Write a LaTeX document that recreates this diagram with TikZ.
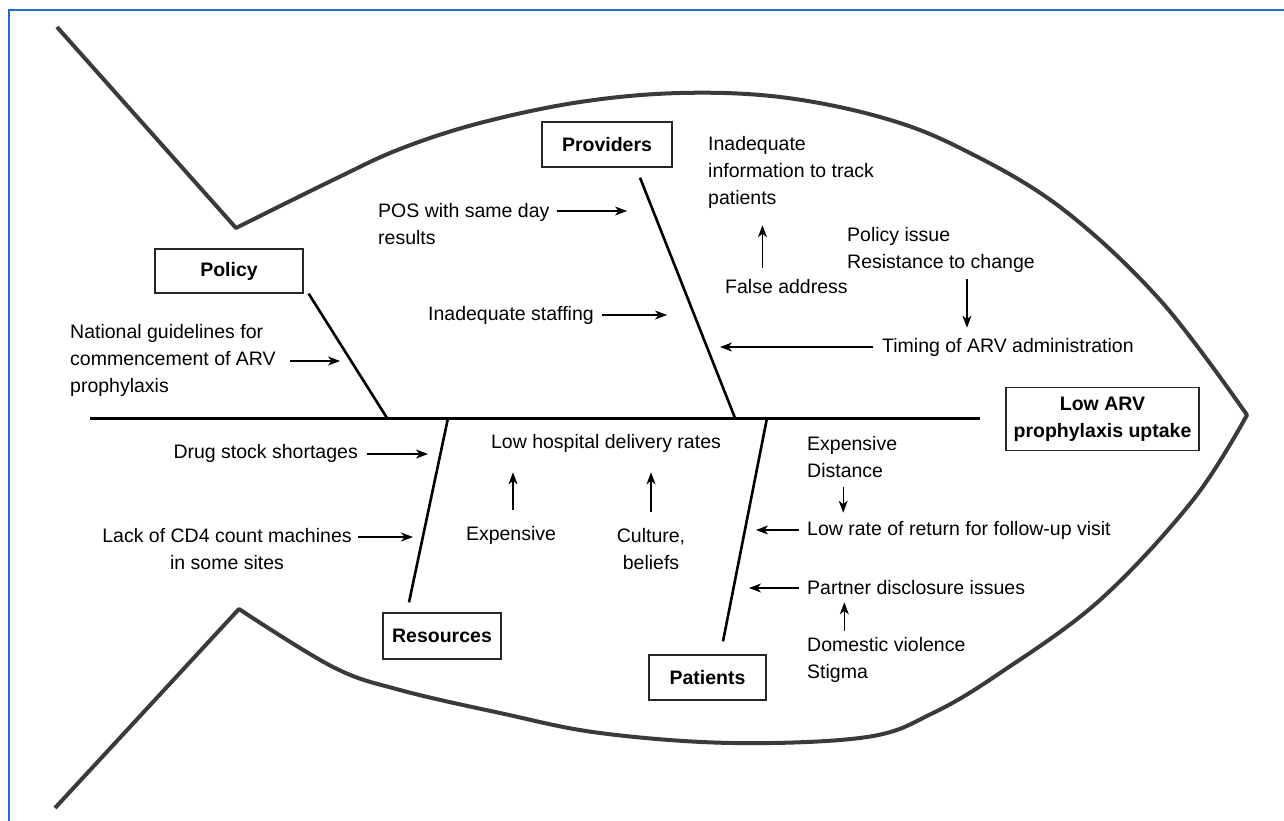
\documentclass[tikz,border=0pt]{standalone}
\usepackage{fontspec}
\setmainfont{Liberation Sans}
\usetikzlibrary{arrows.meta}
\definecolor{frameblue}{RGB}{30,110,200}
\definecolor{fishgray}{RGB}{58,58,58}
\newcommand\fishfont{\fontsize{19.5pt}{27pt}\selectfont}
\tikzset{
  causebox/.style={draw=black!85, line width=1.3pt, font=\fishfont\bfseries, inner sep=0pt, align=center},
  cause/.style={inner sep=0pt},
  bone/.style={line width=2.6pt},
  arr/.style={-{Stealth[length=12pt,width=9pt,inset=3.5pt]}, line width=1.2pt},
}
\begin{document}
\begin{tikzpicture}[x=1pt,y=-1pt,font=\fishfont]
  \useasboundingbox (0,0) rectangle (1284,821);
  \draw[frameblue, line width=2pt] (1284,10) -- (9,10) -- (9,821);
  \draw[fishgray, line width=4pt, line join=round]
    (57,27) -- plot[smooth, tension=0.6] coordinates {
      (236,228) (333,180) (400,149) (480,123) (580,102) (680,93)
      (780,97) (880,117) (960,148) (1060,207) (1160,300) (1247,415)}
    -- plot[smooth, tension=0.6] coordinates {
      (1247,415) (1193,500) (1100,600) (1000,673) (933,713) (867,737)
      (733,743) (600,733) (500,713) (400,690) (333,667) (239,609)}
    -- (55,808);

  \node[causebox, minimum width=148, minimum height=44] (policy) at (229,271) {Policy};
  \node[causebox, minimum width=130, minimum height=45] (providers) at (607,144.5) {Providers};
  \node[causebox, minimum width=118, minimum height=46] (resources) at (442,636) {Resources};
  \node[causebox, minimum width=117, minimum height=45] (patients) at (707.5,677.5) {Patients};
  \node[causebox, minimum width=193, minimum height=63] (uptake) at (1102.5,419) {Low ARV\\prophylaxis uptake};

  \coordinate (spineL) at (90,418);
  \coordinate (spineR) at (980,418);
  \coordinate (polfoot) at (387,418);
  \coordinate (profoot) at (735,418);
  \coordinate (resfoot) at (448,418);
  \coordinate (patfoot) at (767,418);
  \draw[bone, line width=3pt] (spineL) -- (spineR);
  \draw[bone] ([xshift=5pt]policy.south east) -- (polfoot);
  \draw[bone] ([shift={(33,10)}]providers.south) -- (profoot);
  \draw[bone] ([shift={(-33,-10)}]resources.north) -- (resfoot);
  \draw[bone] ([shift={(15.5,-13)}]patients.north) -- (patfoot);

  \node[cause, anchor=west, align=left] (guide) at (70,360) {National guidelines for\\commencement of ARV\\prophylaxis};
  \node[cause, anchor=west, align=left] (pos) at (378,224.5) {POS with same day\\results};
  \node[cause, anchor=west] (staff) at (428,315) {Inadequate staffing};
  \node[cause, anchor=west, align=left] (track) at (708,172) {Inadequate\\information to track\\patients};
  \node[cause, anchor=west] (false) at (725,287) {False address};
  \node[cause, anchor=west, align=left] (issue) at (847,250) {Policy issue\\Resistance to change};
  \node[cause, anchor=west] (timing) at (882,347) {Timing of ARV administration};
  \node[cause, anchor=east] (drug) at (358,453) {Drug stock shortages};
  \node[cause, align=center] (lack) at (227,549) {Lack of CD4 count machines\\in some sites};
  \node[cause] (lowdel) at (606,443) {Low hospital delivery rates};
  \node[cause] (cost) at (511,535) {Expensive};
  \node[cause, align=center] (culture) at (651,549) {Culture,\\beliefs};
  \node[cause, anchor=west, align=left] (access) at (807,457) {Expensive\\Distance};
  \node[cause, anchor=west] (return) at (807,530) {Low rate of return for follow-up visit};
  \node[cause, anchor=west] (partner) at (807,588) {Partner disclosure issues};
  \node[cause, anchor=west, align=left] (violence) at (807,660) {Domestic violence\\Stigma};

  \coordinate (t1) at (340,361);
  \coordinate (t2) at (627,211);
  \coordinate (t3) at (667,315);
  \coordinate (t4) at (720,347);
  \coordinate (t5) at (428,454);
  \coordinate (t6) at (413,537);
  \coordinate (t7) at (756,530);
  \coordinate (t8) at (749,588);
  \begin{scope}[arr]
    \draw[shorten <=14pt] (guide.east |- t1) -- (t1);
    \draw[shorten <=7pt] (pos.east |- t2) -- (t2);
    \draw[shorten <=8pt] (staff.east |- t3) -- (t3);
    \draw[shorten <=9pt] (timing.west |- t4) -- (t4);
    \draw[shorten <=9pt] (drug.east |- t5) -- (t5);
    \draw[shorten <=6pt] (lack.east |- t6) -- (t6);
    \draw[shorten <=8pt] (return.west |- t7) -- (t7);
    \draw[shorten <=8pt] (partner.west |- t8) -- (t8);
    \draw[shorten <=12pt, shorten >=17pt] ([xshift=-24pt]false.north) -- ([xshift=-24pt]false.north |- track.south);
    \draw[shorten <=6pt, shorten >=10pt] ([xshift=26pt]issue.south) -- ([xshift=26pt]issue.south |- timing.north);
    \draw[shorten <=16pt, shorten >=20pt] ([xshift=2pt]cost.north) -- ([xshift=2pt]cost.north |- lowdel.south);
    \draw[shorten <=16pt, shorten >=20pt] (culture.north) -- (culture.north |- lowdel.south);
    \draw[shorten <=9pt, shorten >=8pt] ([xshift=-9pt]access.south) -- ([xshift=-9pt]access.south |- return.north);
    \draw[shorten <=6pt, shorten >=7pt] ([xshift=-42pt]violence.north) -- ([xshift=-42pt]violence.north |- partner.south);
  \end{scope}
\end{tikzpicture}
\end{document}
